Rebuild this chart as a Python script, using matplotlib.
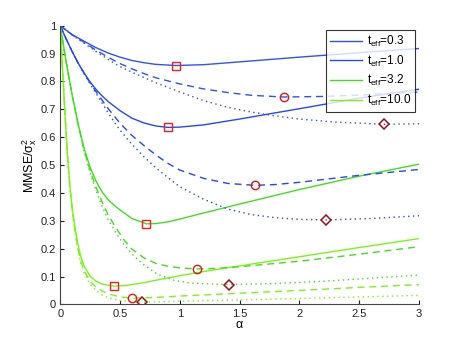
import numpy as np
import matplotlib
matplotlib.use("Agg")
import matplotlib.pyplot as plt

plt.rcParams["font.family"] = ["Liberation Sans", "DejaVu Sans"]
plt.rcParams["mathtext.fontset"] = "custom"
plt.rcParams["mathtext.rm"] = "Liberation Sans"
plt.rcParams["mathtext.it"] = "Liberation Sans:italic"

# --- data (alpha, MMSE/sigma_x^2) ---
t_labels = ["0.3", "1.0", "3.2", "10.0"]

# t_eff = 0.3
a_03_solid = [0, 0.1, 0.2, 0.3, 0.4, 0.5, 0.6, 0.7, 0.8, 0.97, 1.2, 1.5, 2.0, 2.5, 3.0]
v_03_solid = [1.0, 0.968, 0.944, 0.921, 0.902, 0.887, 0.875, 0.867, 0.861, 0.857, 0.860, 0.870, 0.887, 0.903, 0.918]
a_03_dash = [0, 0.1, 0.2, 0.3, 0.4, 0.5, 0.6, 0.7, 0.8, 1.0, 1.2, 1.4, 1.6, 1.87, 2.2, 2.6, 3.0]
v_03_dash = [1.0, 0.967, 0.940, 0.912, 0.887, 0.864, 0.845, 0.828, 0.813, 0.791, 0.773, 0.760, 0.750, 0.744, 0.746, 0.753, 0.762]
a_03_dot = [0, 0.1, 0.2, 0.3, 0.4, 0.5, 0.6, 0.8, 1.0, 1.2, 1.4, 1.6, 1.8, 2.0, 2.3, 2.71, 3.0]
v_03_dot = [1.0, 0.966, 0.937, 0.907, 0.879, 0.853, 0.833, 0.795, 0.762, 0.731, 0.707, 0.690, 0.676, 0.665, 0.654, 0.646, 0.648]

# t_eff = 1.0
a_10_solid = [0, 0.05, 0.1, 0.15, 0.2, 0.25, 0.3, 0.35, 0.4, 0.5, 0.6, 0.7, 0.8, 0.9, 1.0, 1.2, 1.5, 2.0, 2.5, 3.0]
v_10_solid = [1.0, 0.952, 0.907, 0.866, 0.830, 0.798, 0.771, 0.748, 0.728, 0.695, 0.668, 0.651, 0.640, 0.635, 0.636, 0.644, 0.665, 0.702, 0.740, 0.772]
a_10_dash = [0, 0.05, 0.1, 0.15, 0.2, 0.25, 0.3, 0.4, 0.5, 0.6, 0.7, 0.8, 0.9, 1.0, 1.2, 1.4, 1.63, 1.8, 2.0, 2.5, 3.0]
v_10_dash = [1.0, 0.952, 0.907, 0.866, 0.829, 0.795, 0.763, 0.703, 0.650, 0.606, 0.570, 0.536, 0.506, 0.482, 0.452, 0.434, 0.427, 0.430, 0.438, 0.463, 0.484]
a_10_dot = [0, 0.05, 0.1, 0.15, 0.2, 0.25, 0.3, 0.4, 0.5, 0.6, 0.7, 0.8, 0.9, 1.0, 1.2, 1.4, 1.6, 1.8, 2.0, 2.22, 2.6, 3.0]
v_10_dot = [1.0, 0.952, 0.907, 0.865, 0.827, 0.791, 0.757, 0.688, 0.625, 0.574, 0.530, 0.490, 0.455, 0.422, 0.377, 0.342, 0.322, 0.311, 0.305, 0.303, 0.308, 0.318]

# t_eff = 3.2
a_32_solid = [0, 0.05, 0.1, 0.15, 0.2, 0.25, 0.3, 0.35, 0.4, 0.467, 0.5, 0.6, 0.72, 0.8, 0.9, 1.0, 1.2, 1.5, 2.0, 2.5, 3.0]
v_32_solid = [1.0, 0.870, 0.752, 0.648, 0.560, 0.492, 0.442, 0.404, 0.376, 0.350, 0.339, 0.308, 0.289, 0.290, 0.296, 0.306, 0.328, 0.360, 0.412, 0.460, 0.503]
a_32_dash = [0, 0.05, 0.1, 0.15, 0.2, 0.25, 0.3, 0.35, 0.4, 0.467, 0.536, 0.6, 0.7, 0.8, 0.9, 1.0, 1.14, 1.3, 1.5, 2.0, 2.5, 3.0]
v_32_dash = [1.0, 0.869, 0.750, 0.644, 0.553, 0.480, 0.420, 0.368, 0.322, 0.274, 0.230, 0.198, 0.167, 0.147, 0.137, 0.131, 0.127, 0.129, 0.135, 0.155, 0.180, 0.207]
a_32_dot = [0, 0.05, 0.1, 0.15, 0.2, 0.25, 0.3, 0.35, 0.4, 0.467, 0.536, 0.62, 0.7, 0.815, 0.955, 1.1, 1.41, 1.8, 2.2, 2.6, 3.0]
v_32_dot = [1.0, 0.869, 0.749, 0.642, 0.549, 0.472, 0.408, 0.352, 0.305, 0.256, 0.212, 0.172, 0.142, 0.108, 0.086, 0.076, 0.071, 0.075, 0.083, 0.094, 0.105]

# t_eff = 10.0
a_100_solid = [0, 0.02, 0.04, 0.06, 0.08, 0.1, 0.125, 0.15, 0.175, 0.2, 0.25, 0.3, 0.35, 0.45, 0.55, 0.7, 0.9, 1.2, 1.5, 2.0, 2.5, 3.0]
v_100_solid = [1.0, 0.84, 0.685, 0.540, 0.430, 0.348, 0.272, 0.212, 0.168, 0.137, 0.101, 0.083, 0.073, 0.065, 0.068, 0.078, 0.095, 0.118, 0.138, 0.171, 0.204, 0.236]
a_100_dash = [0, 0.02, 0.04, 0.06, 0.08, 0.1, 0.125, 0.15, 0.175, 0.2, 0.25, 0.3, 0.35, 0.4, 0.5, 0.6, 0.8, 1.0, 1.5, 2.0, 2.5, 3.0]
v_100_dash = [1.0, 0.84, 0.684, 0.538, 0.425, 0.340, 0.260, 0.198, 0.152, 0.120, 0.083, 0.062, 0.048, 0.038, 0.027, 0.022, 0.025, 0.030, 0.040, 0.050, 0.061, 0.071]
a_100_dot = [0, 0.02, 0.04, 0.06, 0.08, 0.1, 0.125, 0.15, 0.175, 0.2, 0.25, 0.3, 0.35, 0.4, 0.5, 0.6, 0.68, 0.8, 1.0, 1.4, 2.0, 2.5, 3.0]
v_100_dot = [1.0, 0.84, 0.684, 0.537, 0.423, 0.336, 0.254, 0.190, 0.144, 0.112, 0.072, 0.050, 0.034, 0.024, 0.014, 0.010, 0.008, 0.009, 0.011, 0.015, 0.021, 0.027, 0.032]

# minima markers
sq_a = [0.97, 0.9, 0.72, 0.45]
sq_v = [0.857, 0.635, 0.289, 0.065]
ci_a = [1.87, 1.63, 1.14, 0.6]
ci_v = [0.744, 0.427, 0.127, 0.022]
di_a = [2.71, 2.22, 1.41, 0.68]
di_v = [0.646, 0.303, 0.071, 0.008]

colors = ["#3352ea", "#2748ee", "#44dd22", "#7cf41c"]
curves = [
    (a_03_solid, v_03_solid, a_03_dash, v_03_dash, a_03_dot, v_03_dot),
    (a_10_solid, v_10_solid, a_10_dash, v_10_dash, a_10_dot, v_10_dot),
    (a_32_solid, v_32_solid, a_32_dash, v_32_dash, a_32_dot, v_32_dot),
    (a_100_solid, v_100_solid, a_100_dash, v_100_dash, a_100_dot, v_100_dot),
]

fig = plt.figure(figsize=(4.63, 3.42), dpi=100)
ax = fig.add_axes([0.13, 0.11, 0.775, 0.815])

lw = 1.0
for (as_, vs, ad, vd, ao, vo), c, t in zip(curves, colors, t_labels):
    ax.plot(as_, vs, "-", color=c, lw=lw, label=r"$\mathregular{t_{eff}}$=" + t)
for (as_, vs, ad, vd, ao, vo), c in zip(curves, colors):
    ax.plot(ad, vd, "--", color=c, lw=lw, dashes=(5, 3.5))
    ax.plot(ao, vo, ":", color=c, lw=lw, dashes=(1, 2.5))

ax.plot(sq_a, sq_v, "s", ms=5.5, mfc="none", mec="#ee2020", mew=1.0)
ax.plot(ci_a, ci_v, "o", ms=6, mfc="none", mec="#e01818", mew=1.0)
ax.plot(di_a, di_v, "D", ms=5, mfc="none", mec="#9a1020", mew=1.1)

ax.set_xlim(0, 3)
ax.set_ylim(0, 1)
ax.set_xticks(np.arange(0, 3.01, 0.5))
ax.set_xticklabels(["0", "0.5", "1", "1.5", "2", "2.5", "3"])
ax.set_yticks(np.arange(0, 1.01, 0.1))
ax.set_yticklabels(["0"] + [f"{v:.1f}" for v in np.arange(0.1, 0.95, 0.1)] + ["1"])
ax.tick_params(direction="in", length=3, labelsize=8, colors="#222222", pad=3)
for side in ["top", "right"]:
    ax.spines[side].set_visible(False)
for side in ["left", "bottom"]:
    ax.spines[side].set_color("#444444")
    ax.spines[side].set_linewidth(0.8)

ax.set_xlabel(r"$\mathregular{\alpha}$", fontsize=9, labelpad=0)
ax.set_ylabel(r"MMSE/$\mathregular{\sigma_x^2}$", fontsize=9, labelpad=1)

leg = ax.legend(loc="upper right", bbox_to_anchor=(0.99, 0.986), fontsize=8.5,
                frameon=True, fancybox=False, edgecolor="black",
                handlelength=2.7, handletextpad=0.45, borderpad=0.35,
                labelspacing=0.4, borderaxespad=0.0)
leg.get_frame().set_linewidth(0.8)

fig.savefig("out.png", dpi=100)
